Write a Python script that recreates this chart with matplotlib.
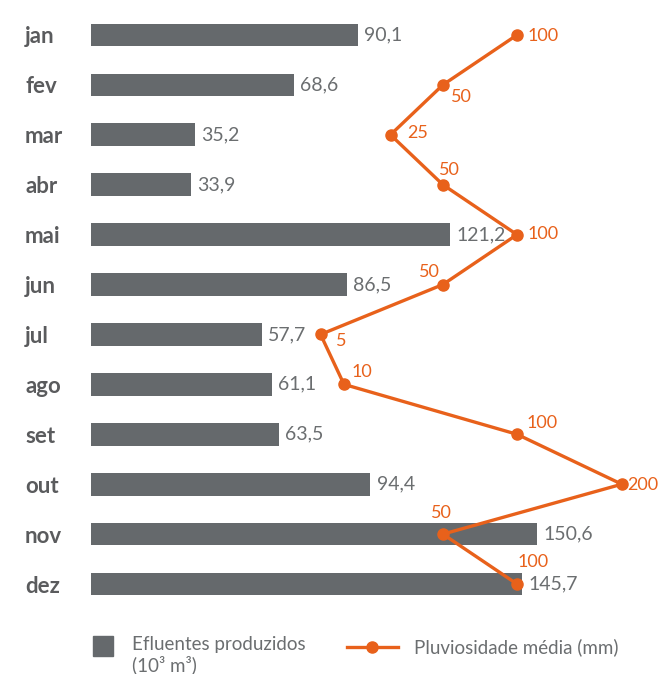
import matplotlib
matplotlib.use('Agg')
import matplotlib.pyplot as plt
import numpy as np
from matplotlib.patches import Rectangle
from matplotlib.lines import Line2D

# ---- data ----
months = ['jan', 'fev', 'mar', 'abr', 'mai', 'jun', 'jul', 'ago', 'set', 'out', 'nov', 'dez']
effluents = [90.1, 68.6, 35.2, 33.9, 121.2, 86.5, 57.7, 61.1, 63.5, 94.4, 150.6, 145.7]
rainfall = [100, 50, 25, 50, 100, 50, 5, 10, 100, 200, 50, 100]
legend_bar = 'Efluentes produzidos\n(10³ m³)'
legend_line = 'Pluviosidade média (mm)'

# ---- style / layout ----
rain_label_offsets = [(11, -1, 'left'), (8, -12, 'left'), (17, 2, 'left'), (-4, 15, 'left'),
                      (11, 1, 'left'), (-3, 13, 'right'), (15, -7, 'left'), (8, 12, 'left'),
                      (10, 11, 'left'), (5, -1, 'left'), (-12, 21, 'left'), (1, 22, 'left')]
BAR_C = '#65696c'
ORANGE = '#e8611b'
VAL_C = '#6b6e70'
MONTH_C = '#5a5b5d'
FONT = ['Lato', 'DejaVu Sans']

W, H = 661, 674
fig = plt.figure(figsize=(W / 100, H / 100), dpi=100)
plt.rcParams['font.family'] = FONT

ax_bottom = (H - 609) / H
ax_height = 599 / H
ax = fig.add_axes([91 / W, ax_bottom, (W - 91) / W, ax_height])
y = np.arange(len(months))
ax.barh(y, effluents, height=0.455, color=BAR_C)
ax.set_ylim(len(months) - 0.5, -0.5)
ax.set_xlim(0, (W - 91) / 2.96)
for s in ax.spines.values():
    s.set_visible(False)
ax.set_xticks([])
ax.set_yticks(y, months)
ax.tick_params(axis='y', length=0, pad=66 * 0.72)
for lab in ax.get_yticklabels():
    lab.set_ha('left')
    lab.set_fontweight('bold')
    lab.set_fontsize(16)
    lab.set_color(MONTH_C)
ax.patch.set_alpha(0)
for i, v in enumerate(effluents):
    ax.annotate(f'{v:.1f}'.replace('.', ','), (v, i), xytext=(4.5, 0), textcoords='offset points',
                va='center', ha='left', fontsize=14, color=VAL_C, fontweight='normal')

# rainfall line on a sqrt-scaled overlay axis
a_px, b_px = 264.0, 25.3
ax2 = fig.add_axes([a_px / W, ax_bottom, (W - a_px) / W, ax_height])
ax2.set_xscale('function', functions=(lambda x: np.sqrt(np.clip(x, 0, None)), lambda x: np.square(x)))
ax2.set_xlim(0, ((W - a_px) / b_px) ** 2)
ax2.set_ylim(len(months) - 0.5, -0.5)
ax2.axis('off')
ax2.plot(rainfall, y, color=ORANGE, lw=2.4, marker='o', ms=8, clip_on=False, solid_joinstyle='round')
for i, (v, (dx, dy, ha)) in enumerate(zip(rainfall, rain_label_offsets)):
    ax2.annotate(str(v), (v, i), xytext=(dx * 0.72, dy * 0.72), textcoords='offset points',
                 ha=ha, va='center', fontsize=13, color=ORANGE, annotation_clip=False)

# legend (manual, figure coords)
fig.add_artist(Rectangle((93 / W, (H - 656) / H), 20 / W, 20 / H, color=BAR_C,
                         transform=fig.transFigure))
fig.text(132 / W, (H - 636) / H, legend_bar, ha='left', va='top', fontsize=13.5,
         color=VAL_C, linespacing=1.15)
fig.add_artist(Line2D([347 / W, 372 / W, 398 / W], [(H - 647) / H] * 3, color=ORANGE, lw=2.4,
                      marker='o', ms=8, markevery=[1], transform=fig.transFigure))
fig.text(414 / W, (H - 653) / H, legend_line, ha='left', va='baseline', fontsize=13.5, color=VAL_C)

fig.savefig('out.png', dpi=100)
